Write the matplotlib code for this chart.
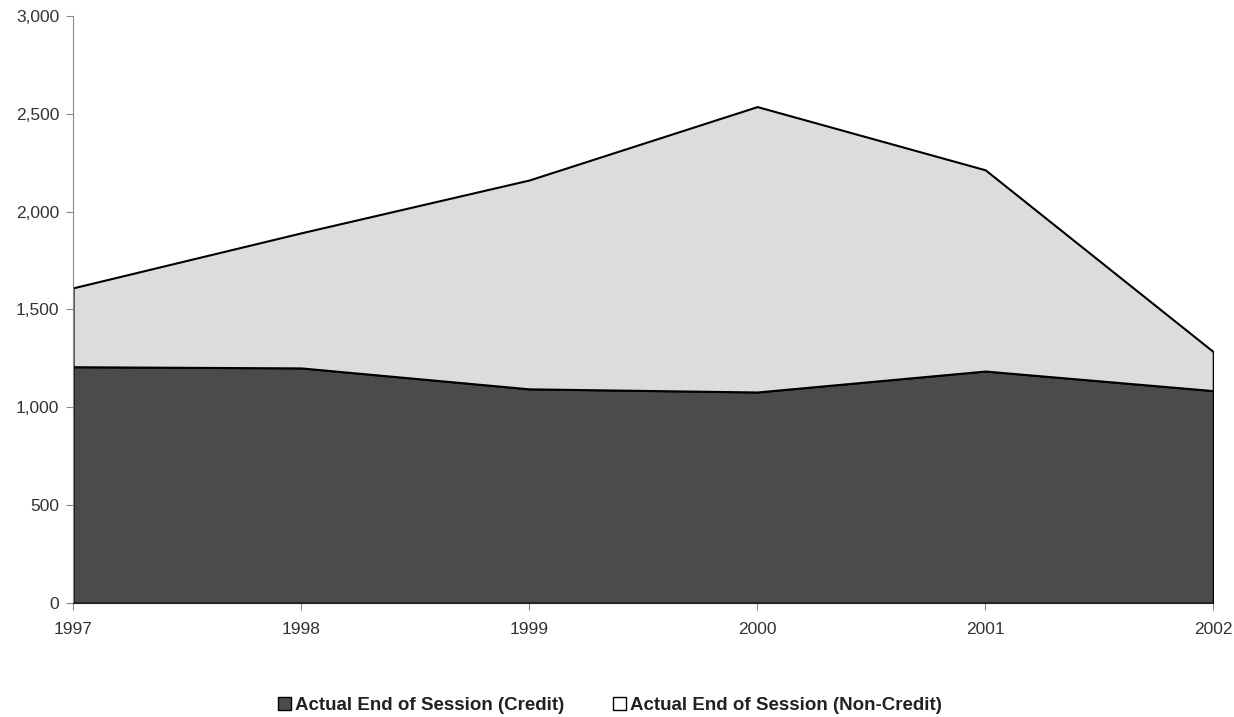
import matplotlib
matplotlib.use("Agg")
import matplotlib.pyplot as plt
from matplotlib.patches import Patch

plt.rcParams['font.family'] = ['Liberation Sans', 'DejaVu Sans']

# data
years = [1997, 1998, 1999, 2000, 2001, 2002]
credit = [1207, 1201, 1094, 1078, 1185, 1085]
non_credit = [403, 690, 1067, 1458, 1028, 199]

dark = '#4b4b4b'
light = '#dcdcdc'

fig = plt.figure(figsize=(12.34, 7.17), dpi=100)
ax = fig.add_axes([0.0592, 0.159, 0.924, 0.819])

ax.stackplot(years, credit, non_credit, colors=[dark, light],
             edgecolor='black', linewidth=1.5)

ax.set_xlim(1997, 2002)
ax.set_ylim(0, 3000)
ax.set_xticks(years)
ax.set_yticks(range(0, 3001, 500))
ax.yaxis.set_major_formatter(matplotlib.ticker.StrMethodFormatter('{x:,.0f}'))

for side in ['top', 'right']:
    ax.spines[side].set_visible(False)
ax.spines['left'].set_color('#888888')
ax.spines['bottom'].set_color('#222222')
ax.tick_params(axis='both', labelsize=12.5, length=5, colors='#333333')
ax.tick_params(axis='both', color='#888888')
ax.tick_params(axis='x', pad=9)
ax.tick_params(axis='y', pad=5)

handles = [Patch(facecolor=dark, edgecolor='black'),
           Patch(facecolor='white', edgecolor='black')]
fig.legend(handles, ['Actual End of Session (Credit)', 'Actual End of Session (Non-Credit)'],
           loc='center', bbox_to_anchor=(0.494, 0.016), ncol=2, frameon=False,
           prop={'weight': 'bold', 'size': 13.5}, handlelength=0.7, handleheight=0.7,
           handletextpad=0.2, columnspacing=2.6, labelcolor='#222222')

fig.savefig('out.png', dpi=100)
